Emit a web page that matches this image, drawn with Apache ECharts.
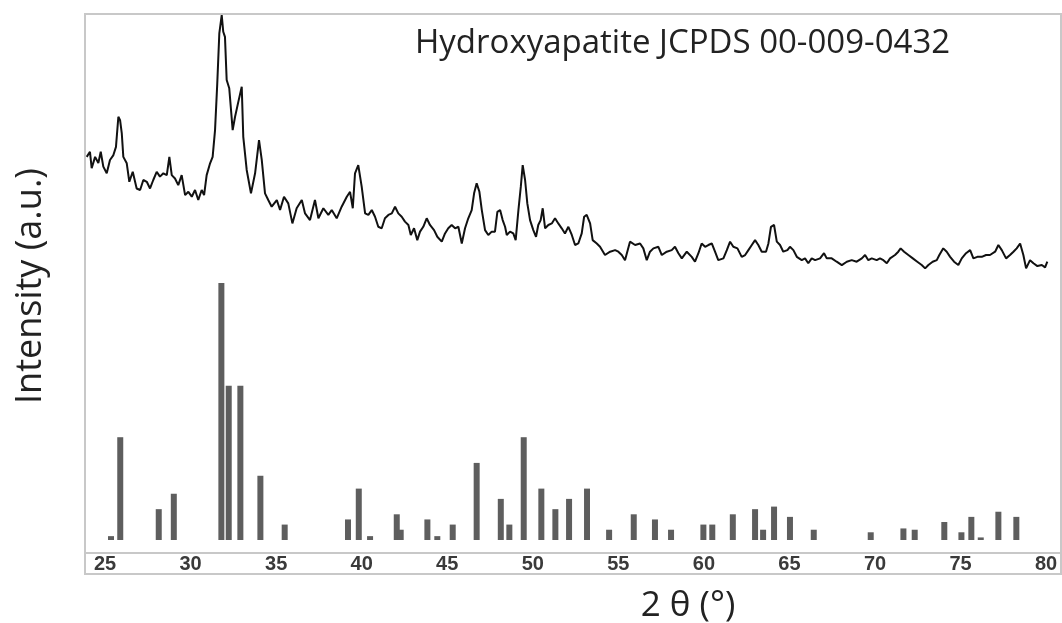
<!DOCTYPE html>
<html>
<head>
<meta charset="utf-8">
<script src="https://cdn.jsdelivr.net/npm/echarts@6/dist/echarts.min.js"></script>
<style>
html,body{margin:0;padding:0;background:#fff;}
#chart{width:1062px;height:623px;}
</style>
</head>
<body>
<div id="chart"></div>
<script>
// Measured XRD scan (2θ in degrees, intensity in a.u.)
var scanTheta = [23.93,24.12,24.22,24.42,24.61,24.75,24.90,25.10,25.29,25.49,25.64,25.78,25.88,25.98,26.07,26.27,26.42,26.62,26.85,27.05,27.24,27.44,27.63,27.82,28.02,28.21,28.41,28.61,28.76,28.90,29.09,29.28,29.48,29.68,29.87,30.07,30.26,30.45,30.65,30.79,30.94,31.14,31.29,31.43,31.56,31.68,31.82,31.91,32.01,32.11,32.26,32.46,32.60,32.79,32.99,33.08,33.28,33.53,33.77,34.00,34.16,34.35,34.54,34.74,35.04,35.23,35.46,35.71,35.95,36.20,36.50,36.69,36.98,37.27,37.47,37.76,38.05,38.25,38.54,38.83,39.13,39.32,39.48,39.61,39.80,40.00,40.20,40.39,40.59,40.78,40.97,41.17,41.36,41.56,41.76,41.95,42.14,42.34,42.53,42.73,42.87,43.06,43.25,43.41,43.60,43.80,43.99,44.23,44.42,44.68,44.87,45.06,45.26,45.46,45.65,45.85,46.04,46.23,46.43,46.57,46.72,46.88,47.02,47.21,47.40,47.60,47.79,47.93,48.09,48.24,48.38,48.48,48.67,48.86,49.00,49.16,49.30,49.41,49.55,49.68,49.84,50.03,50.19,50.32,50.46,50.58,50.72,50.91,51.11,51.30,51.49,51.69,51.88,52.08,52.28,52.47,52.66,52.86,53.00,53.15,53.35,53.50,53.74,53.93,54.22,54.52,54.81,55.00,55.20,55.39,55.68,55.98,56.27,56.46,56.66,56.85,57.05,57.34,57.54,57.83,58.12,58.31,58.51,58.71,58.80,59.00,59.29,59.48,59.68,59.87,60.07,60.26,60.46,60.65,60.84,61.14,61.34,61.53,61.72,61.96,62.21,62.41,62.60,62.80,62.99,63.18,63.38,63.63,63.77,63.92,64.10,64.26,64.45,64.64,64.88,65.03,65.23,65.43,65.72,65.91,66.10,66.30,66.50,66.79,67.02,67.18,67.47,67.76,68.06,68.35,68.64,68.93,69.23,69.42,69.61,69.81,70.10,70.29,70.49,70.69,70.88,71.17,71.36,71.50,71.70,71.95,72.21,72.47,72.73,72.93,73.12,73.37,73.61,73.76,73.99,74.19,74.39,74.62,74.87,75.07,75.32,75.56,75.75,75.98,76.24,76.49,76.72,77.02,77.21,77.41,77.66,77.89,78.09,78.28,78.48,78.67,78.83,79.06,79.26,79.49,79.75,79.94,80.07];
var scanInt = [149.1,151.1,144.7,149.1,146.7,151.1,145.3,142.7,147.9,149.8,153.0,164.7,163.4,158.2,149.1,146.6,139.4,143.3,136.8,136.2,140.1,139.4,136.8,140.1,143.3,141.4,142.7,142.0,149.1,142.0,140.7,138.1,142.0,134.2,135.5,133.6,136.2,132.3,136.2,134.2,142.0,146.6,149.1,159.5,177.7,197.2,204.3,197.8,195.8,179.0,175.8,159.5,164.7,170.5,176.4,156.9,144.0,134.9,142.7,155.6,147.9,134.9,132.3,129.7,132.3,128.4,133.6,131.0,123.2,129.1,132.3,127.1,124.5,132.3,125.2,129.1,126.5,128.4,125.2,129.7,133.6,135.5,129.1,142.7,145.9,137.5,127.1,126.5,128.4,125.8,121.9,121.3,125.2,126.5,127.1,129.7,127.1,125.8,123.9,122.6,118.7,121.3,116.7,120.0,121.9,125.2,122.6,120.6,118.0,116.1,119.3,121.3,122.6,121.3,121.9,115.4,121.3,125.2,128.4,134.9,138.8,135.5,128.4,120.6,118.7,120.0,120.0,127.7,128.4,124.5,121.9,118.7,120.0,119.3,116.7,128.4,137.5,145.9,140.1,131.0,124.5,120.6,118.0,122.6,124.5,129.1,121.3,122.6,123.2,125.2,123.2,121.3,119.3,121.9,118.7,114.8,115.4,119.3,125.8,126.5,123.2,116.7,115.4,114.1,110.9,112.2,112.8,112.2,110.9,108.9,116.1,114.8,115.4,113.5,108.9,112.2,113.5,114.1,110.9,112.2,112.8,114.1,111.6,109.6,108.9,112.2,110.2,108.3,111.6,115.4,114.1,114.8,115.4,112.2,108.9,109.6,112.8,116.1,114.1,113.5,110.2,110.9,112.8,114.8,116.7,114.8,112.2,112.2,115.4,121.9,122.6,116.1,114.8,112.2,112.8,114.1,112.8,110.2,108.9,109.6,107.7,109.6,108.9,109.6,111.6,109.6,109.6,108.3,107.0,108.3,108.9,108.3,109.6,110.9,108.9,109.6,108.9,109.6,108.9,107.7,109.6,110.9,112.2,113.5,112.2,110.9,109.6,108.3,107.0,105.7,107.0,108.3,108.9,110.9,113.5,112.2,110.2,108.3,107.0,109.6,111.6,112.8,109.6,110.2,110.2,110.9,110.9,112.2,114.8,112.8,109.6,110.9,112.2,113.5,115.4,110.9,105.7,108.9,107.7,106.6,107.0,106.1,108.3];

// Reference pattern: Hydroxyapatite JCPDS 00-009-0432 (2θ, relative intensity %)
var refTheta = [25.35,25.89,28.14,29.02,31.80,32.23,32.91,34.08,35.50,39.20,39.83,40.49,42.05,42.28,43.84,44.42,45.32,46.72,48.13,48.63,49.47,50.50,51.32,52.12,53.17,54.46,55.90,57.14,58.08,59.97,60.49,61.69,62.99,63.46,64.10,65.03,66.42,69.75,71.66,72.32,74.05,75.05,75.63,76.18,77.21,78.26];
var refInt = [1.5,40,12,18,100,60,60,25,6,8,20,1.5,10,4,8,1.5,6,30,16,6,40,20,12,16,20,4,10,8,4,6,6,10,12,4,13,9,4,3,4.5,4,7,3,9,1,11,9];

var tickValues = [25,30,35,40,45,50,55,60,65,70,75,80];
var titleText = 'Hydroxyapatite JCPDS 00-009-0432';
var xName = '2 θ (°)';
var yName = 'Intensity (a.u.)';

var scanData = scanTheta.map(function(t,i){return [t, scanInt[i]];});
var refData = refTheta.map(function(t,i){return [t, refInt[i]];});

var chart = echarts.init(document.getElementById('chart'), null, {renderer:'canvas'});
var frameColor = '#c8c8c8';
chart.setOption({
  animation: false,
  backgroundColor: '#ffffff',
  grid: {left: 85, right: 1, top: 14, bottom: 70, show: false, outerBoundsMode: 'none', containLabel: false},
  xAxis: {
    type: 'value', min: 23.83, max: 80.87,
    axisLine: {show: false}, axisTick: {show: false}, splitLine: {show: false},
    axisLabel: {
      customValues: tickValues, margin: 1, fontSize: 20, fontWeight: 'bold',
      color: '#3a3a3a', fontFamily: 'Liberation Sans'
    }
  },
  yAxis: {
    type: 'value', min: -5.06, max: 204.7, show: false,
    splitLine: {show: false}
  },
  series: [
    {
      type: 'bar', data: refData, barWidth: 6, z: 2,
      itemStyle: {color: '#5e5e5e'}
    },
    {
      type: 'line', data: scanData, symbol: 'none', z: 3,
      lineStyle: {color: '#111111', width: 2}
    }
  ],
  graphic: [
    {type: 'rect', shape: {x: 85, y: 14, width: 976, height: 560}, style: {fill: 'none', stroke: frameColor, lineWidth: 2}, z: 10},
    {type: 'line', shape: {x1: 85, y1: 553, x2: 1061, y2: 553}, style: {stroke: frameColor, lineWidth: 2}, z: 10},
    {type: 'text', x: 415, y: 44, style: {text: titleText, font: '33px "Open Sans", sans-serif', fill: '#222', align: 'left', verticalAlign: 'middle'}},
    {type: 'text', x: 688, y: 606, style: {text: xName, font: '35px "Open Sans", sans-serif', fill: '#222', align: 'center', verticalAlign: 'middle'}},
    {type: 'text', x: 31, y: 286, rotation: Math.PI/2, style: {text: yName, font: '36px "Open Sans", sans-serif', fill: '#222', align: 'center', verticalAlign: 'middle'}}
  ]
});
</script>
</body>
</html>
